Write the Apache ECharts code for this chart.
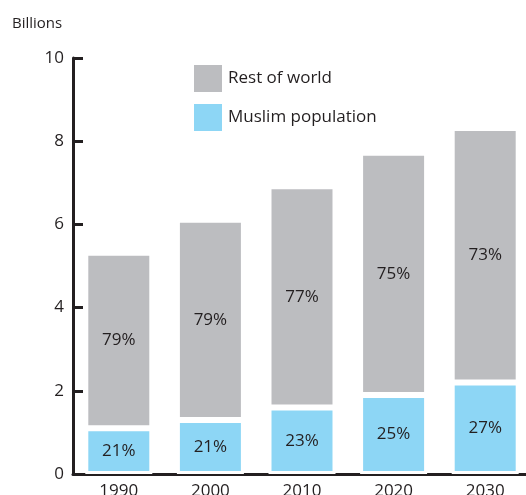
<!DOCTYPE html>
<html lang="en">
<head>
	<meta charset="UTF-8">
	<title>World population</title>
	<style type="text/css">
		html, body{ margin: 0; padding: 0; background: #fff; }
		.box{ width: 526px; height: 495px; }
	</style>
</head>
<body>
	<div class="box"></div>
	<script type="text/javascript" src="https://cdn.jsdelivr.net/npm/echarts@6/dist/echarts.min.js"></script>
	<script type="text/javascript">
		// data (billions)
		var years = ['1990', '2000', '2010', '2020', '2030'];
		var muslim = [1.1, 1.3, 1.6, 1.9, 2.2];
		var restOfWorld = [4.22, 4.81, 5.32, 5.82, 6.12];
		var muslimPct = ['21%', '21%', '23%', '25%', '27%'];
		var restPct = ['79%', '79%', '77%', '75%', '73%'];

		var ink = '#231f20';
		var font = 'Open Sans';
		var myChart = echarts.init(document.querySelector('.box'));

		var option = {
			animation: false,
			title: {
				text: 'Billions',
				left: 12, top: 16, padding: 0,
				textStyle: { fontFamily: font, fontSize: 15, fontWeight: 'normal', color: ink }
			},
			legend: {
				orient: 'vertical',
				left: 192, top: 63, padding: 0,
				icon: 'rect',
				itemWidth: 30, itemHeight: 29, itemGap: 8,
				data: ['Rest of world', 'Muslim population'],
				textStyle: { fontFamily: font, fontSize: 17, color: ink }
			},
			grid: { left: 73, right: -5, top: 58, bottom: 21, outerBoundsMode: 'none' },
			xAxis: {
				type: 'category',
				data: years,
				axisLine: { lineStyle: { color: ink, width: 3 } },
				axisTick: { inside: true, length: 11, lineStyle: { color: ink, width: 3 } },
				axisLabel: { fontFamily: font, fontSize: 17, color: ink, margin: 9 }
			},
			yAxis: {
				type: 'value',
				min: 0, max: 10, interval: 2,
				splitLine: { show: false },
				axisLine: { show: true, lineStyle: { color: ink, width: 3 } },
				axisTick: { show: true, inside: true, length: 10, lineStyle: { color: ink, width: 3 } },
				axisLabel: { fontFamily: font, fontSize: 17, color: ink, margin: 9 }
			},
			series: [
				{
					name: 'Muslim population',
					type: 'bar',
					stack: 'pop',
					barWidth: 67,
					data: muslim,
					itemStyle: { color: '#8dd6f5', borderColor: '#fff', borderWidth: 3 },
					label: {
						show: true, position: 'inside',
						fontFamily: font, fontSize: 17, color: ink,
						formatter: function (p) { return muslimPct[p.dataIndex]; }
					}
				},
				{
					name: 'Rest of world',
					type: 'bar',
					stack: 'pop',
					barWidth: 67,
					data: restOfWorld,
					itemStyle: { color: '#bcbdc0', borderColor: '#fff', borderWidth: 3 },
					label: {
						show: true, position: 'inside',
						fontFamily: font, fontSize: 17, color: ink,
						formatter: function (p) { return restPct[p.dataIndex]; }
					}
				}
			]
		};
		myChart.setOption(option);
	</script>
</body>
</html>
